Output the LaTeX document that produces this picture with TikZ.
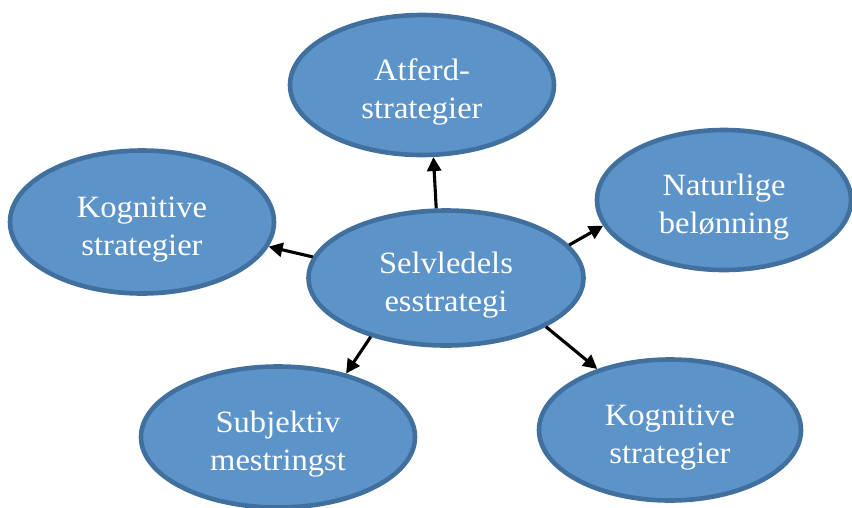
\documentclass[tikz,border=0pt]{standalone}
\usepackage{fontspec}
\setmainfont{Liberation Serif}[FakeStretch=1.05]
\usetikzlibrary{shapes.geometric,arrows.meta}
\definecolor{efill}{RGB}{92,147,201}
\definecolor{eline}{RGB}{66,112,158}
\newcommand\mytopgap{\rule{0pt}{36pt}}
\tikzset{
  bubble/.style={ellipse, draw=eline, fill=efill, line width=4.6pt, inner sep=0pt,
    text=white, align=center, font=\fontsize{31}{38}\selectfont},
  link/.style={line width=3.1pt, -{Triangle[length=14pt,width=14pt]}}
}
\begin{document}
\begin{tikzpicture}[x=1pt,y=-1pt]
\useasboundingbox (0,0) rectangle (852,507);
\node[bubble, minimum width=264pt, minimum height=140pt] (atf) at (422,85) {\mytopgap Atferd-\\strategier};
\node[bubble, minimum width=254pt, minimum height=140pt] (nat) at (724,200) {\mytopgap Naturlige\\belønning};
\node[bubble, minimum width=264pt, minimum height=143pt] (kl) at (142,222) {\mytopgap Kognitive\\strategier};
\node[bubble, minimum width=275pt, minimum height=135pt] (sel) at (446,278) {\mytopgap Selvledels\\esstrategi};
\node[bubble, minimum width=274pt, minimum height=141pt] (sub) at (278,437) {\mytopgap Subjektiv\\mestringst};
\node[bubble, minimum width=262pt, minimum height=141pt] (kr) at (670,430) {\mytopgap Kognitive\\strategier};
\draw[link] (sel.98) -- (atf.279);
\draw[link] (sel.15.5) -- (nat.192.4);
\draw[link] (sel.171) -- (kl.349.5);
\draw[link] (sel.218.6) -- (sub.43.6);
\draw[link] (sel.334) -- (kr.140.8);
\end{tikzpicture}
\end{document}
